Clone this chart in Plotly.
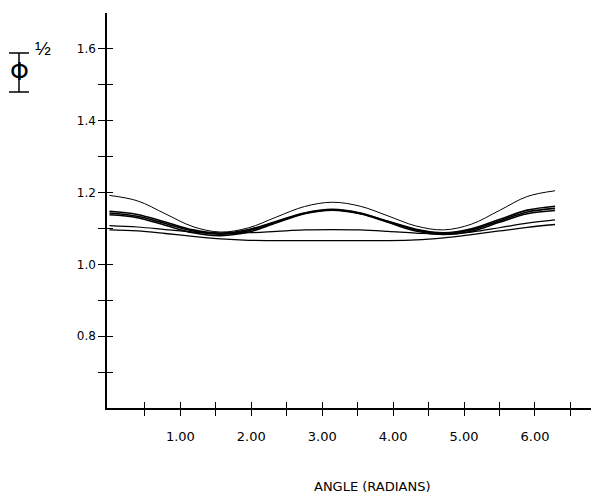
import plotly.graph_objects as go

# angle samples (radians), pi/8 steps
angle = [0.0, 0.3927, 0.7854, 1.1781, 1.5708, 1.9635, 2.3562, 2.7489, 3.1416,
         3.5343, 3.9270, 4.3197, 4.7124, 5.1051, 5.4978, 5.8905, 6.2832]

curve_a = [1.192, 1.177, 1.141, 1.105, 1.090, 1.102, 1.132, 1.161, 1.173,
           1.162, 1.135, 1.107, 1.096, 1.112, 1.150, 1.189, 1.205]
curve_b = [1.148, 1.139, 1.118, 1.096, 1.087, 1.097, 1.120, 1.143, 1.153,
           1.143, 1.120, 1.098, 1.088, 1.099, 1.125, 1.151, 1.162]
curve_c = [1.143, 1.134, 1.114, 1.093, 1.084, 1.094, 1.118, 1.142, 1.152,
           1.142, 1.119, 1.096, 1.086, 1.096, 1.121, 1.146, 1.156]
curve_d = [1.138, 1.130, 1.109, 1.088, 1.080, 1.090, 1.116, 1.141, 1.151,
           1.141, 1.117, 1.093, 1.083, 1.092, 1.117, 1.141, 1.150]
curve_e = [1.108, 1.104, 1.097, 1.090, 1.086, 1.088, 1.092, 1.096, 1.097,
           1.096, 1.092, 1.087, 1.084, 1.090, 1.102, 1.115, 1.124]
curve_f = [1.096, 1.093, 1.086, 1.078, 1.071, 1.067, 1.066, 1.066, 1.066,
           1.066, 1.066, 1.068, 1.074, 1.083, 1.093, 1.103, 1.111]

x_tickvals = [0.5, 1.0, 1.5, 2.0, 2.5, 3.0, 3.5, 4.0, 4.5, 5.0, 5.5, 6.0, 6.5]
x_ticktext = ["", "1.00", "", "2.00", "", "3.00", "", "4.00", "", "5.00", "", "6.00", ""]
y_tickvals = [0.7, 0.8, 0.9, 1.0, 1.1, 1.2, 1.3, 1.4, 1.5, 1.6]
y_ticktext = ["", "0.8", "", "1.0", "", "1.2", "", "1.4", "", "1.6"]

series = [(curve_a, 1.0), (curve_b, 1.6), (curve_c, 1.6), (curve_d, 1.6),
          (curve_e, 1.2), (curve_f, 1.3)]

fig = go.Figure()
for ys, w in series:
    fig.add_trace(go.Scatter(x=angle, y=ys, mode="lines",
                             line=dict(color="black", width=w, shape="spline"),
                             showlegend=False, hoverinfo="skip"))
# empty trace to activate overlay axes (inner half of crossing ticks)
fig.add_trace(go.Scatter(x=[], y=[], xaxis="x2", yaxis="y2", showlegend=False))

W, H = 591, 496
L, R, T, B = 107, 0, 13, 88
PW, PH = W - L - R, H - T - B


def px(x):
    return (x - L) / PW


def py(y):
    return (H - B - y) / PH


XR = [-0.035, 6.79]
YR = [0.6, 1.70]
xfont = dict(family="DejaVu Sans, sans-serif", size=13, color="black")
yfont = dict(family="DejaVu Sans, sans-serif", size=12, color="black")

fig.update_layout(
    width=W, height=H,
    margin=dict(l=L, r=R, t=T, b=B),
    paper_bgcolor="white", plot_bgcolor="white",
    font=xfont,
    xaxis=dict(range=XR, showgrid=False, zeroline=False, showline=True,
               linecolor="black", linewidth=1.5, ticks="outside", ticklen=6,
               tickwidth=1.2, tickcolor="black", tickmode="array",
               tickvals=x_tickvals, ticktext=x_ticktext, ticklabelstandoff=10,
               tickfont=xfont),
    yaxis=dict(range=YR, showgrid=False, zeroline=False, showline=True,
               linecolor="black", linewidth=1.5, ticks="outside", ticklen=7,
               tickwidth=1.2, tickcolor="black", tickmode="array",
               tickvals=y_tickvals, ticktext=y_ticktext, tickfont=yfont),
    xaxis2=dict(range=XR, overlaying="x", anchor="y2", showgrid=False,
                zeroline=False, showline=False, ticks="inside", ticklen=6,
                tickwidth=1.2, tickcolor="black", tickmode="array",
                tickvals=x_tickvals, showticklabels=False),
    yaxis2=dict(range=YR, overlaying="y", anchor="x2", showgrid=False,
                zeroline=False, showline=False, ticks="inside", ticklen=6,
                tickwidth=1.2, tickcolor="black", tickmode="array",
                tickvals=y_tickvals, showticklabels=False),
    annotations=[
        dict(text="ANGLE (RADIANS)", xref="paper", yref="paper",
             x=px(372), y=py(486), xanchor="center", yanchor="middle",
             showarrow=False, font=xfont),
        dict(text="Φ", xref="paper", yref="paper",
             x=px(19), y=py(72), xanchor="center", yanchor="middle",
             showarrow=False,
             font=dict(family="DejaVu Sans, sans-serif", size=24, color="black")),
        dict(text="½", xref="paper", yref="paper",
             x=px(43), y=py(48), xanchor="center", yanchor="middle",
             showarrow=False,
             font=dict(family="Liberation Sans, sans-serif", size=19, color="black")),
    ],
    shapes=[
        dict(type="line", xref="paper", yref="paper", x0=px(19), x1=px(19),
             y0=py(53), y1=py(92), line=dict(color="black", width=1.5)),
        dict(type="line", xref="paper", yref="paper", x0=px(9), x1=px(29),
             y0=py(53), y1=py(53), line=dict(color="black", width=1.5)),
        dict(type="line", xref="paper", yref="paper", x0=px(9), x1=px(29),
             y0=py(92), y1=py(92), line=dict(color="black", width=1.5)),
    ],
)

fig.write_html("out.html", post_script="document.body.style.margin='0';",
               config={"displayModeBar": False})
